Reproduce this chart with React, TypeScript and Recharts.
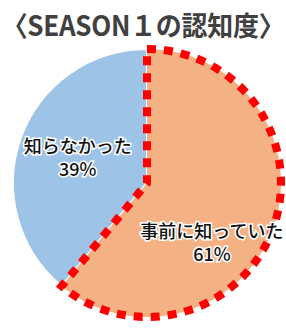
import React from 'react';
import { PieChart, Pie, Cell } from 'recharts';

const TITLE = '〈SEASON１の認知度〉';
const labels = ['知らなかった', '事前に知っていた'];
const values = [39, 61];
const COLORS = ['#9DC3E6', '#F4B183'];

const chartData = labels.map((name, i) => ({ name, value: values[i] }));
const total = values.reduce((a, b) => a + b, 0);
// blue slice drawn first so the dotted border of the orange one stays on top;
// orange still starts at 12 o'clock and runs clockwise
const startAngle = 90 + (360 * values[0]) / total;

const RADIAN = Math.PI / 180;

const renderLabel = (props: any) => {
  const { cx, cy, midAngle, outerRadius, index, payload } = props;
  // excel "best fit" placement, nudged a bit for the big slice
  const angle = index === 1 ? midAngle - 23 : midAngle;
  const r = outerRadius * (index === 1 ? 0.66 : 0.55);
  const x = cx + r * Math.cos(-angle * RADIAN);
  const y = cy + r * Math.sin(-angle * RADIAN);
  const textStyle = {
    fontFamily: '"Noto Sans CJK JP", sans-serif',
    fontSize: 18,
    fontWeight: 500,
    fill: '#111',
    stroke: '#fff',
    strokeWidth: 3,
    paintOrder: 'stroke' as const,
  };
  return (
    <g>
      <text x={x} y={y - 5} textAnchor="middle" style={textStyle}>
        {payload.name}
      </text>
      <text x={x} y={y + 18} textAnchor="middle" style={textStyle}>
        {`${payload.value}%`}
      </text>
    </g>
  );
};

export default function App() {
  return (
    <div style={{ position: 'absolute', left: 0, top: 0, width: 286, height: 329, background: '#fff' }}>
      <div
        style={{
          position: 'absolute',
          top: 5,
          left: 0,
          width: 286,
          textAlign: 'center',
          fontFamily: '"Noto Sans CJK JP", sans-serif',
          fontWeight: 700,
          fontSize: 26,
          color: '#404040',
          letterSpacing: -0.3,
          lineHeight: '38px',
          transform: 'scaleY(1.06)',
          whiteSpace: 'nowrap',
        }}
      >
        {TITLE}
      </div>
      <PieChart width={286} height={329} margin={{ top: 0, right: 0, bottom: 0, left: 0 }}>
        <Pie
          data={chartData}
          dataKey="value"
          cx={147}
          cy={183}
          outerRadius={134}
          startAngle={startAngle}
          endAngle={startAngle - 360}
          labelLine={false}
          label={renderLabel}
          isAnimationActive={false}
        >
          {chartData.map((entry, index) =>
            index === 1 ? (
              <Cell
                key={`cell-${index}`}
                fill={COLORS[index]}
                stroke="#FF0000"
                strokeWidth={8}
                strokeDasharray="9 8"
              />
            ) : (
              <Cell key={`cell-${index}`} fill={COLORS[index]} stroke="#fff" strokeWidth={2} />
            )
          )}
        </Pie>
      </PieChart>
    </div>
  );
}
